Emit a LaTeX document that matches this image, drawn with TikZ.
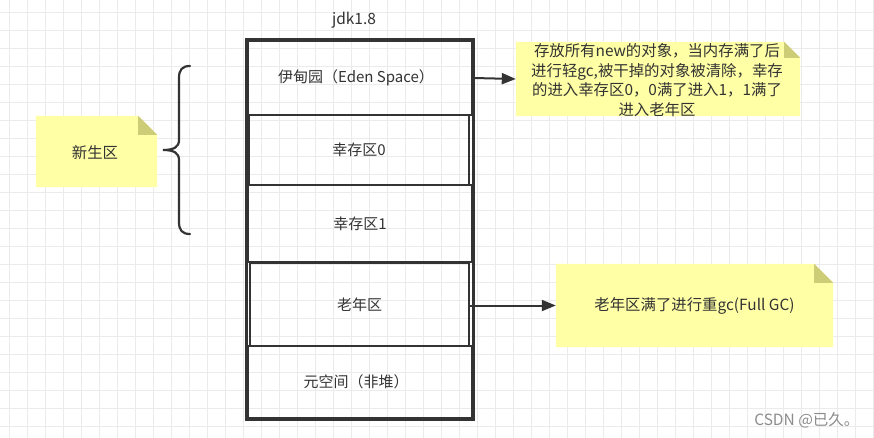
\documentclass[tikz,border=0pt]{standalone}
\usepackage{fontspec}
\setmainfont{Noto Sans CJK SC}
\usetikzlibrary{arrows.meta}
\definecolor{gridc}{HTML}{EBEBEB}
\definecolor{ink}{HTML}{333333}
\definecolor{notey}{HTML}{FFFFA6}
\definecolor{foldc}{HTML}{CDCD78}
\tikzset{
  sect/.style={draw=ink, line width=2.6pt, inner sep=0pt, text=ink, font=\fontsize{15}{17}\selectfont},
  notebox/.style={inner sep=0pt, text=ink, align=center, font=\fontsize{15.4}{19.5}\selectfont},
  conn/.style={draw=ink, line width=2pt, -{Triangle[length=14pt,width=11pt]}},
}
\newcommand{\drawnote}[2]{%
  \fill[notey] (#1.north west) -- ([xshift=-#2]#1.north east) -- ([yshift=-#2]#1.north east) -- (#1.south east) -- (#1.south west) -- cycle;
  \fill[foldc] ([xshift=-#2]#1.north east) -- ([yshift=-#2]#1.north east) -- ([xshift=-#2,yshift=-#2]#1.north east) -- cycle;
}
\begin{document}
\begin{tikzpicture}[x=1pt,y=-1pt]
\useasboundingbox (0,0) rectangle (874,438);
\fill[white] (0,0) rectangle (874,438);
\foreach \x in {9.3,27.3,...,874} \draw[gridc, line width=0.9pt] (\x,0) -- (\x,438);
\foreach \y in {12.7,30.7,...,438} \draw[gridc, line width=0.9pt] (0,\y) -- (874,\y);

% notes (background shapes drawn from phantom nodes)
\node[notebox, minimum width=121pt, minimum height=71pt] (young) at (96.5,151.5) {};
\drawnote{young}{19pt}
\node[notebox] at (95,153) {新生区};

\node[notebox, minimum width=284pt, minimum height=74pt] (n1) at (658,79) {};
\drawnote{n1}{16pt}
\node[notebox] at (657,80) {存放所有new的对象，当内存满了后\\进行轻gc,被干掉的对象被清除，幸存\\的进入幸存区0，0满了进入1，1满了\\进入老年区};

\node[notebox, minimum width=277pt, minimum height=83pt] (n2) at (694.5,305.5) {};
\drawnote{n2}{19pt}
\node[notebox] at (n2) {老年区满了进行重gc(Full GC)};

% heap column
\node[text=ink, font=\fontsize{15.5}{17}\selectfont] (title) at (354,20) {jdk1.8};
\node[sect, minimum width=224pt, minimum height=74pt] (eden) at (360,78) {\hspace*{-8pt}伊甸园（Eden Space）};
\node[sect, minimum width=220pt, minimum height=70pt] (s0) at (359,150) {幸存区0};
\node[sect, minimum width=224pt, minimum height=77pt] (s1) at (360,223.5) {幸存区1};
\node[sect, minimum width=219pt, minimum height=83pt] (old) at (359.5,304.5) {老年区};
\node[sect, minimum width=224pt, minimum height=72pt] (meta) at (360,382) {\hspace*{-8pt}元空间（非堆）};
\draw[ink, line width=3pt] (eden.north west) rectangle (meta.south east);

% connectors
\draw[conn] (eden.east) -- (n1.west);
\draw[conn] (old.east |- n2.west) -- (n2.west);

% brace
\draw[ink, line width=2.2pt, line cap=round]
  (190,66) .. controls (182,66) and (179,70) .. (179,78)
  -- (179,140) .. controls (179,147) and (174,150) .. (163,150)
  .. controls (174,150) and (179,153) .. (179,160)
  -- (179,222) .. controls (179,230) and (182,234) .. (190,234);

% watermark
\node[text=black!45, font=\fontsize{15.5}{17}\selectfont, anchor=east] (wm) at (863,420) {CSDN @已久。};
\end{tikzpicture}
\end{document}
